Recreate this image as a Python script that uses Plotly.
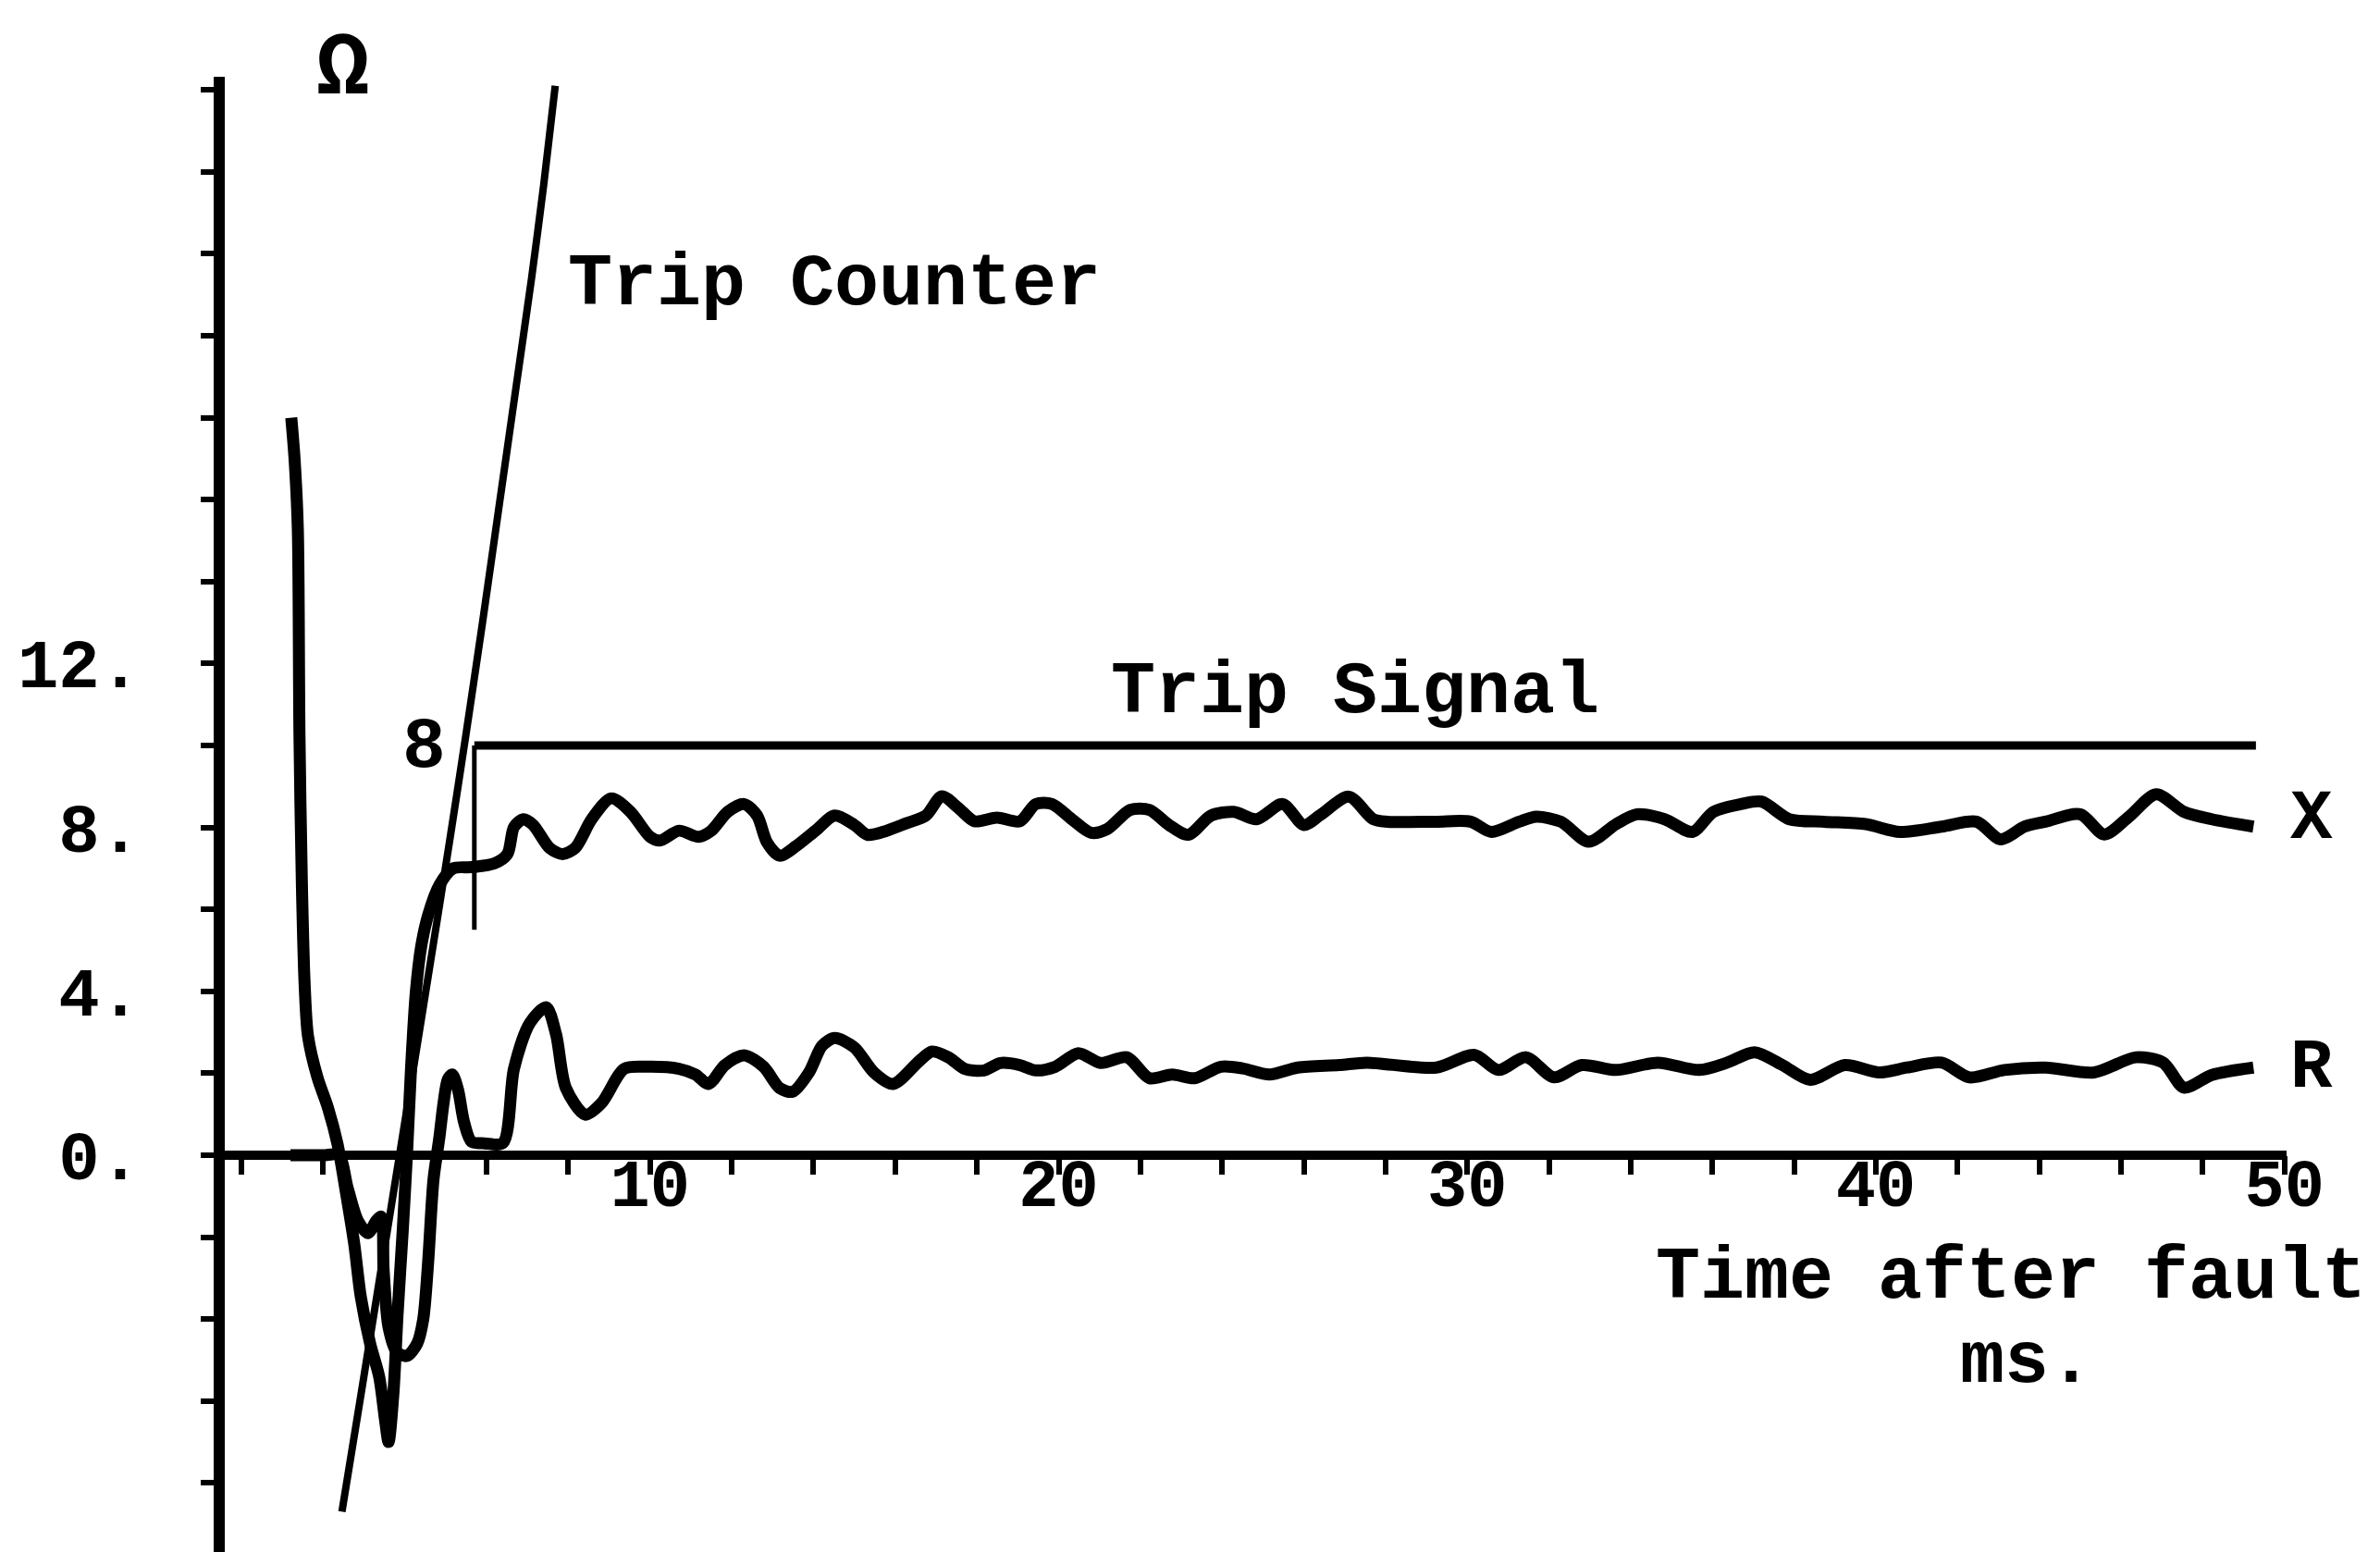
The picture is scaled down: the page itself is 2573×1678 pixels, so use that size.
import plotly.graph_objects as go

# ---------------- data ----------------
# X (reactance) trace, ohms vs ms after fault
X_T = [1.22, 1.3, 1.38, 1.42, 1.48, 1.55, 1.63, 1.86, 2.12, 2.35,
       2.55, 2.76, 2.92, 3.15, 3.37, 3.52, 3.6, 3.72, 3.82, 3.95,
       4.06, 4.15, 4.27, 4.4, 4.57, 4.85, 5.18, 5.63, 6.19, 6.51,
       6.67, 6.9, 7.14, 7.54, 7.86, 8.17, 8.57, 9.05, 9.52, 10.0,
       10.24, 10.71, 11.19, 11.5, 11.9, 12.3, 12.62, 12.86, 13.17, 13.57,
       14.05, 14.52, 15.0, 15.32, 15.79, 16.27, 16.75, 17.14, 17.54, 17.94,
       18.49, 19.05, 19.44, 19.84, 20.32, 20.79, 21.19, 21.75, 22.22, 22.7,
       23.17, 23.73, 24.29, 24.84, 25.48, 26.0, 26.4, 27.1, 27.7, 28.05,
       29.24, 30.08, 30.59, 31.27, 31.69, 32.29, 32.97, 33.64, 34.15, 34.83,
       35.51, 36.02, 36.69, 37.2, 37.88, 38.73, 39.75, 40.59, 41.61, 42.46,
       43.05, 43.64, 44.15, 45.0, 45.59, 46.19, 46.86, 47.54, 48.22, 49.24]
X_V = [18.0, 17.0, 15.3, 10.3, 6.6, 4.1, 2.9, 1.9, 1.15, 0.28,
       -0.86, -2.16, -3.45, -4.6, -5.4, -6.5, -7.0, -5.8, -3.9, -1.8,
       0.2, 2.1, 4.0, 5.1, 5.86, 6.6, 7.0, 7.03, 7.12, 7.35,
       8.01, 8.2, 8.06, 7.5, 7.35, 7.5, 8.2, 8.71, 8.38, 7.77,
       7.68, 7.92, 7.77, 7.92, 8.38, 8.57, 8.29, 7.64, 7.31, 7.54,
       7.92, 8.29, 8.06, 7.82, 7.92, 8.1, 8.29, 8.76, 8.48, 8.15,
       8.24, 8.15, 8.57, 8.57, 8.2, 7.87, 7.96, 8.43, 8.43, 8.06,
       7.82, 8.29, 8.38, 8.2, 8.57, 8.06, 8.3, 8.75, 8.2, 8.14,
       8.14, 8.14, 7.89, 8.14, 8.26, 8.14, 7.65, 8.08, 8.32, 8.2,
       7.89, 8.38, 8.57, 8.63, 8.2, 8.14, 8.08, 7.89, 8.02, 8.14,
       7.71, 8.02, 8.14, 8.32, 7.83, 8.26, 8.81, 8.38, 8.2, 8.02]

# R (resistance) trace
R_T = [1.2, 2.0, 2.38, 2.6, 2.85, 3.1, 3.3, 3.42, 3.48, 3.6,
       3.8, 4.05, 4.3, 4.45, 4.57, 4.7, 4.84, 4.95, 5.05, 5.16,
       5.3, 5.45, 5.63, 5.95, 6.4, 6.67, 7.06, 7.46, 7.7, 7.94,
       8.41, 8.81, 9.37, 9.92, 10.71, 11.11, 11.43, 11.83, 12.3, 12.78,
       13.17, 13.49, 13.89, 14.21, 14.52, 15.0, 15.48, 15.95, 16.59, 16.9,
       17.3, 17.7, 18.17, 18.57, 19.05, 19.44, 19.92, 20.48, 21.03, 21.67,
       22.22, 22.78, 23.33, 23.97, 24.5, 25.16, 25.85, 26.86, 27.54, 29.24,
       30.17, 30.76, 31.44, 32.12, 32.8, 33.64, 34.66, 35.68, 36.36, 37.03,
       37.71, 38.39, 39.24, 40.08, 40.76, 41.61, 42.29, 43.14, 44.15, 45.34,
       46.36, 47.03, 47.54, 48.22, 49.24]
R_V = [0.0, 0.0, 0.0, -0.8, -1.6, -1.9, -1.6, -1.5, -2.8, -4.2,
       -4.8, -4.9, -4.6, -4.0, -2.6, -0.6, 0.4, 1.3, 1.85, 1.97,
       1.6, 0.8, 0.33, 0.29, 0.3, 2.11, 3.23, 3.61, 2.95, 1.64,
       0.99, 1.27, 2.11, 2.16, 2.11, 1.97, 1.74, 2.2, 2.44, 2.16,
       1.64, 1.55, 2.02, 2.67, 2.86, 2.63, 2.02, 1.74, 2.3, 2.53,
       2.39, 2.11, 2.07, 2.25, 2.2, 2.07, 2.16, 2.49, 2.25, 2.39,
       1.88, 1.97, 1.88, 2.16, 2.12, 1.97, 2.14, 2.2, 2.26, 2.14,
       2.45, 2.08, 2.39, 1.9, 2.2, 2.08, 2.26, 2.08, 2.26, 2.51,
       2.2, 1.84, 2.2, 2.02, 2.14, 2.26, 1.9, 2.08, 2.14, 2.02,
       2.39, 2.26, 1.65, 1.96, 2.14]

# Trip counter
TC_T = [2.46, 2.9, 3.4, 3.9, 4.4, 4.8, 5.1, 5.5, 5.9, 6.3, 6.7, 7.1, 7.4, 7.68]
TC_V = [-8.7, -6.0, -2.9, 0.2, 3.3, 5.8, 7.7, 10.3, 13.0, 15.8, 18.6, 21.4, 23.7, 26.1]

# Trip signal (step edge and level)
TS_EDGE_T = [5.7, 5.7]
TS_EDGE_V = [5.5, 10.0]
TS_T = [5.7, 49.3]
TS_V = [10.0, 10.0]

# axis ticks
X_TICKS = [10, 20, 30, 40, 50]
X_TICK_TEXT = ["10", "20", "30", "40", "50"]
Y_TICKS = [0, 4, 8, 12]
Y_TICK_TEXT = ["0.", "4.", "8.", "12."]

# ---------------- geometry ----------------
W, H = 2573, 1678
PX_X = 44.17        # px per ms
PX_Y = 44.3         # px per ohm
X0_PX = 253         # pixel of t = 0
Y0_PX = 1241        # pixel of 0 ohm
L, T = 235, 75
XMAX = 50.05
XMIN = -(X0_PX - L) / PX_X
YMAX = (Y0_PX - T) / PX_Y
YMIN = -(H - Y0_PX) / PX_Y
R_MARGIN = int(round(W - (X0_PX + XMAX * PX_X)))

FONT = "Liberation Mono"
BLACK = "black"


def px(x):
    return (x - XMIN) / (XMAX - XMIN)


def py(y):
    return (y - YMIN) / (YMAX - YMIN)


fig = go.Figure()
fig.add_trace(go.Scatter(x=X_T, y=X_V, mode="lines", name="X",
                         line=dict(color=BLACK, width=13, shape="spline", smoothing=0.8)))
fig.add_trace(go.Scatter(x=R_T, y=R_V, mode="lines", name="R",
                         line=dict(color=BLACK, width=13, shape="spline", smoothing=0.8)))
fig.add_trace(go.Scatter(x=TC_T, y=TC_V, mode="lines", name="Trip Counter",
                         line=dict(color=BLACK, width=8, shape="spline", smoothing=0.6)))
fig.add_trace(go.Scatter(x=TS_EDGE_T, y=TS_EDGE_V, mode="lines", name="Trip Signal edge",
                         line=dict(color=BLACK, width=5)))
fig.add_trace(go.Scatter(x=TS_T, y=TS_V, mode="lines", name="Trip Signal",
                         line=dict(color=BLACK, width=9)))

fig.update_layout(
    width=W, height=H,
    margin=dict(l=L, r=R_MARGIN, t=T, b=0, pad=0),
    paper_bgcolor="white", plot_bgcolor="white",
    showlegend=False,
    xaxis=dict(range=[XMIN, XMAX], anchor="free", position=py(0),
               showgrid=False, zeroline=False, showline=False,
               tickmode="array", tickvals=X_TICKS, ticktext=X_TICK_TEXT,
               ticks="outside", ticklen=20, tickwidth=6, tickcolor=BLACK,
               ticklabelstandoff=-52,
               tickfont=dict(family=FONT, size=72, color=BLACK, weight="bold"),
               minor=dict(tickmode="linear", tick0=0, dtick=2, ticks="outside",
                          ticklen=20, tickwidth=6, tickcolor=BLACK),
               fixedrange=True),
    yaxis=dict(range=[YMIN, YMAX], showgrid=False,
               zeroline=True, zerolinewidth=10, zerolinecolor=BLACK,
               showline=True, linewidth=12, linecolor=BLACK,
               tickmode="array", tickvals=Y_TICKS, ticktext=Y_TICK_TEXT,
               ticks="outside", ticklen=14, tickwidth=6, tickcolor=BLACK,
               ticklabelstandoff=50,
               tickfont=dict(family=FONT, size=74, color=BLACK, weight="bold"),
               minor=dict(tickmode="linear", tick0=0, dtick=2, ticks="outside",
                          ticklen=14, tickwidth=6, tickcolor=BLACK),
               fixedrange=True),
)

labels = [
    ("Trip Counter", 14.5, 21.25, 80),
    ("Trip Signal", 27.26, 11.3, 80),
    ("8", 4.46, 9.95, 78),
    ("X", 50.65, 8.2, 76),
    ("R", 50.65, 2.12, 76),
    ("Time after fault", 43.3, -2.98, 80),
    ("ms.", 43.7, -5.05, 80),
    ("Ω", 2.5, 26.5, 96),
]
for txt, x, y, size in labels:
    fig.add_annotation(x=px(x), y=py(y), xref="paper", yref="paper", text=txt,
                       showarrow=False, xanchor="center", yanchor="middle",
                       font=dict(family=FONT, size=size, color=BLACK, weight="bold"))

fig.write_html("out.html")
